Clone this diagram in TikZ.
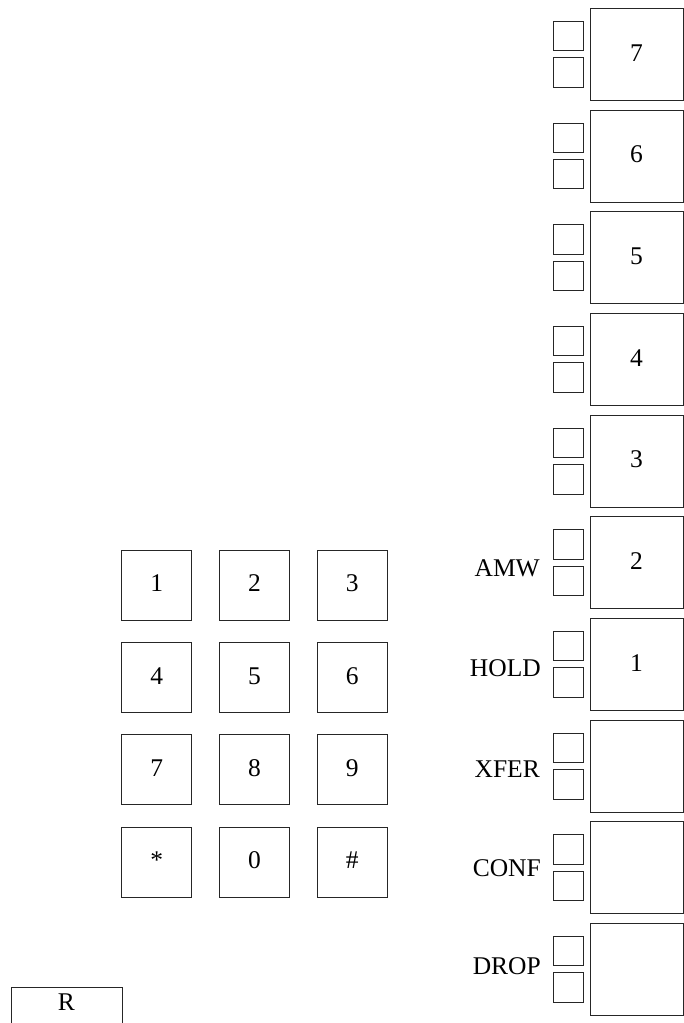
\documentclass[tikz,border=0pt]{standalone}
\usepackage{fontspec}
\setmainfont{Liberation Serif}
\begin{document}
\begin{tikzpicture}[x=1pt,y=-1pt,
  box/.style={draw=black!85, line width=0.85pt, inner sep=0pt},
  bigkey/.style={box, minimum width=93pt, minimum height=92pt},
  lamp/.style={box, minimum width=30pt, minimum height=29.5pt},
  padkey/.style={box, minimum width=70pt, minimum height=70pt},
  txt/.style={font=\fontsize{25.5}{30}\selectfont, inner sep=0pt, anchor=base},
  lbl/.style={font=\fontsize{25.5}{30}\selectfont, inner sep=0pt, anchor=base east}]
\useasboundingbox (0,0) rectangle (684,1023);
% right column of line keys with lamps
\foreach \i in {0,...,9}{
  \pgfmathsetmacro\cy{54.3+101.67*\i}
  \node[bigkey] (big\i) at (636.5,\cy) {};
  \node[lamp] (lampa\i) at (568.3,{\cy-18.2}) {};
  \node[lamp] (lampb\i) at (568.3,{\cy+18.2}) {};
}
\foreach \i/\n in {0/7,1/6,2/5,3/4,4/3,5/2,6/1}{
  \node[txt] (num\i) at ([yshift=-6.7pt]big\i.center) {\n};
}
% feature labels
\node[lbl] (amw)  at (540,576.5) {AMW};
\node[lbl] (hold) at (541,676.7) {HOLD};
\node[lbl] (xfer) at (540,777.3) {XFER};
\node[lbl] (conf) at (541,876.2) {CONF};
\node[lbl] (drop) at (541,974) {DROP};
% dial pad
\foreach \t [count=\k from 0] in {1,2,3,4,5,6,7,8,9,*,0,\#}{
  \pgfmathtruncatemacro\col{mod(\k,3)}
  \pgfmathtruncatemacro\row{\k/3}
  \pgfmathsetmacro\kx{156.7+97.8*\col}
  \pgfmathsetmacro\ky{585+92.4*\row}
  \node[padkey] (key\k) at (\kx,\ky) {};
  \node[txt] (keytxt\k) at ([yshift=-6.7pt]key\k.center) {\t};
}
% R key at bottom left
\node[box, minimum width=111pt, minimum height=80pt, anchor=north] (rkey) at (66.5,987) {};
\node[txt] (rtxt) at (66.5,1010.7) {R};
\end{tikzpicture}
\end{document}
